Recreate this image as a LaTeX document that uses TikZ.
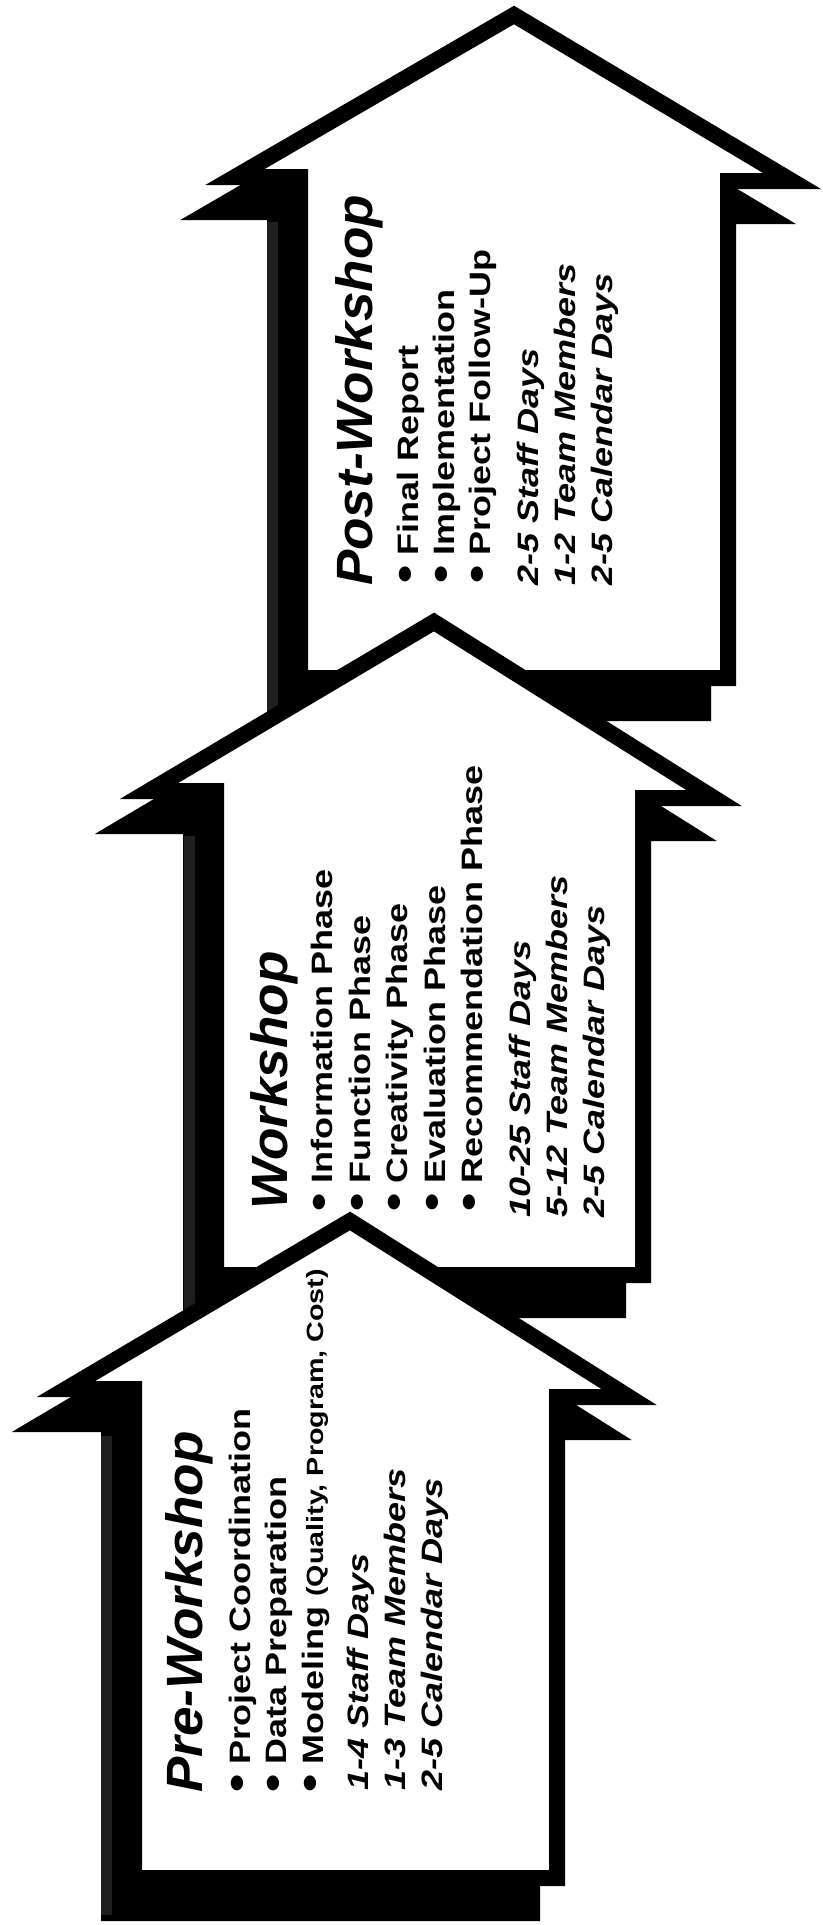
\documentclass[tikz,border=0pt]{standalone}
\usepackage{fontspec}
\setmainfont{Liberation Sans}
\usepackage{graphicx}
\newcommand\strB[1]{\scalebox{1.22}[1]{#1}}
\newcommand\strT[1]{\scalebox{1.04}[1]{#1}}
\newcommand\bigdot{\raisebox{-0.12ex}{\scalebox{1.45}{\textbullet}}}
\begin{document}
\begin{tikzpicture}[x=1pt,y=-1pt,
  arrowbody/.style={fill=white,draw=black,line width=16pt,line join=miter,miter limit=10},
  arrowshadow/.style={fill=black,draw=black,line width=16pt,line join=miter,miter limit=10},
  stipple/.style={fill=black!88},
  ttl/.style={rotate=90,anchor=base west,inner sep=0pt,font=\fontsize{51}{51}\selectfont\bfseries\itshape},
  itm/.style={rotate=90,anchor=base west,inner sep=0pt,font=\fontsize{29.5}{29.5}\selectfont\bfseries},
  sts/.style={rotate=90,anchor=base west,inner sep=0pt,font=\fontsize{29.5}{29.5}\selectfont\bfseries\itshape}]
\useasboundingbox (0,0) rectangle (822,1925);
\fill[white] (0,0) rectangle (822,1925);

% ---------- Post-Workshop (back) ----------
\path[arrowshadow,shift={(-25,35)}] (514,15) -- (792,181) -- (728,181) -- (728,678) -- (300,678) -- (300,177) -- (235,177) -- cycle;
\path[stipple] (267,222) rectangle (278,716);
\path[arrowbody] (514,15) -- (792,181) -- (728,181) -- (728,678) -- (300,678) -- (300,177) -- (235,177) -- cycle;
\node[ttl] (t3) at (372,586) {\strT{Post-Workshop}};
\node[itm] (c1) at (418,584) {\strB{\bigdot\ Final Report}};
\node[itm] (c2) at (454,584) {\strB{\bigdot\ Implementation}};
\node[itm] (c3) at (490,584) {\strB{\bigdot\ Project Follow-Up}};
\node[sts] (c4) at (538,586) {\strB{2-5 Staff Days}};
\node[sts] (c5) at (575,586) {\strB{1-2 Team Members}};
\node[sts] (c6) at (612,586) {\strB{2-5 Calendar Days}};

% ---------- Workshop (middle) ----------
\path[arrowshadow,shift={(-25,35)}] (434,622) -- (714,798) -- (643,798) -- (643,1275) -- (216,1275) -- (216,791) -- (149,791) -- cycle;
\path[stipple] (184,836) rectangle (195,1313);
\path[arrowbody] (434,622) -- (714,798) -- (643,798) -- (643,1275) -- (216,1275) -- (216,791) -- (149,791) -- cycle;
\node[ttl] (t2) at (287,1210) {\strT{Workshop}};
\node[itm] (b1) at (332,1212) {\strB{\bigdot\ Information Phase}};
\node[itm] (b2) at (370,1212) {\strB{\bigdot\ Function Phase}};
\node[itm] (b3) at (407,1212) {\strB{\bigdot\ Creativity Phase}};
\node[itm] (b4) at (445,1212) {\strB{\bigdot\ Evaluation Phase}};
\node[itm] (b5) at (482,1212) {\strB{\bigdot\ Recommendation Phase}};
\node[sts] (b6) at (530,1218) {\strB{10-25 Staff Days}};
\node[sts] (b7) at (567,1218) {\strB{5-12 Team Members}};
\node[sts] (b8) at (604,1218) {\strB{2-5 Calendar Days}};

% ---------- Pre-Workshop (front) ----------
\path[arrowshadow,shift={(-25,35)}] (350,1221) -- (629,1397) -- (557,1397) -- (557,1878) -- (134,1878) -- (134,1389) -- (66,1389) -- cycle;
\path[stipple] (101,1436) rectangle (112,1915);
\path[arrowbody] (350,1221) -- (629,1397) -- (557,1397) -- (557,1878) -- (134,1878) -- (134,1389) -- (66,1389) -- cycle;
\node[ttl] (t1) at (202,1793) {\strT{Pre-Workshop}};
\node[itm] (a1) at (250,1793) {\strB{\bigdot\ Project Coordination}};
\node[itm] (a2) at (286,1793) {\strB{\bigdot\ Data Preparation}};
\node[itm] (a3) at (323,1793) {\strB{\bigdot\ Modeling {\fontsize{23.5}{23.5}\selectfont(Quality, Program, Cost)}}};
\node[sts] (a4) at (368,1791) {\strB{1-4 Staff Days}};
\node[sts] (a5) at (405,1791) {\strB{1-3 Team Members}};
\node[sts] (a6) at (442,1791) {\strB{2-5 Calendar Days}};
\end{tikzpicture}
\end{document}
